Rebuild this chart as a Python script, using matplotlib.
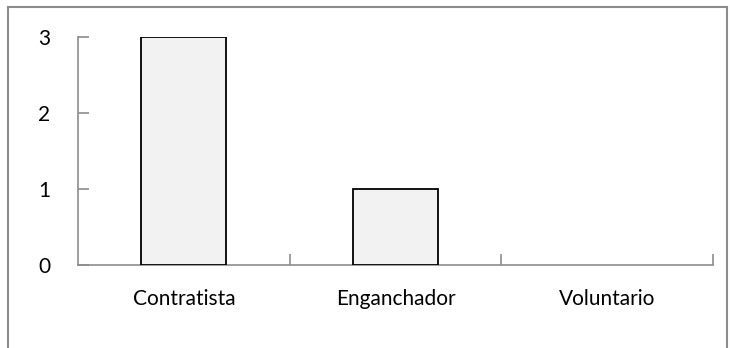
import matplotlib.pyplot as plt
from matplotlib.lines import Line2D

categorias = ['Contratista', 'Enganchador', 'Voluntario']
valores = [3, 1, 0]

plt.rcParams['font.family'] = ['Lato', 'DejaVu Sans']

fig = plt.figure(figsize=(7.3, 3.48), dpi=100)
ax = fig.add_axes([78 / 730, 1 - 265 / 348, (713 - 78) / 730, (265 - 37) / 348])

x = range(len(categorias))
bordes = ['black' if v > 0 else 'none' for v in valores]
ax.bar(x, valores, width=0.4, color='#f2f2f2', edgecolor=bordes, linewidth=1.3, zorder=3)

ax.set_xlim(-0.5, 2.5)
ax.set_ylim(0, 3)
ax.set_yticks([0, 1, 2, 3])
ax.set_xticks(list(x))
ax.set_xticklabels(categorias)
ax.set_xticks([0.5, 1.5, 2.5], minor=True)

gris = '#8c8c8c'
for lado in ['top', 'right']:
    ax.spines[lado].set_visible(False)
for lado in ['left', 'bottom']:
    ax.spines[lado].set_color(gris)
    ax.spines[lado].set_linewidth(1.2)

ax.tick_params(axis='y', direction='in', length=8, width=1.2, color=gris,
               labelsize=15, pad=20)
ax.tick_params(axis='x', which='major', length=0, labelsize=15, pad=17)
ax.tick_params(axis='x', which='minor', direction='in', length=8, width=1.2, color=gris)

# marco exterior del grafico
for xs, ys in [([8, 8], [0, 341]), ([8, 727], [341, 341]), ([727, 727], [341, 0])]:
    fig.add_artist(Line2D([v / 730 for v in xs], [v / 348 for v in ys],
                          color=gris, linewidth=1.5))

fig.savefig('out.png', dpi=100)
